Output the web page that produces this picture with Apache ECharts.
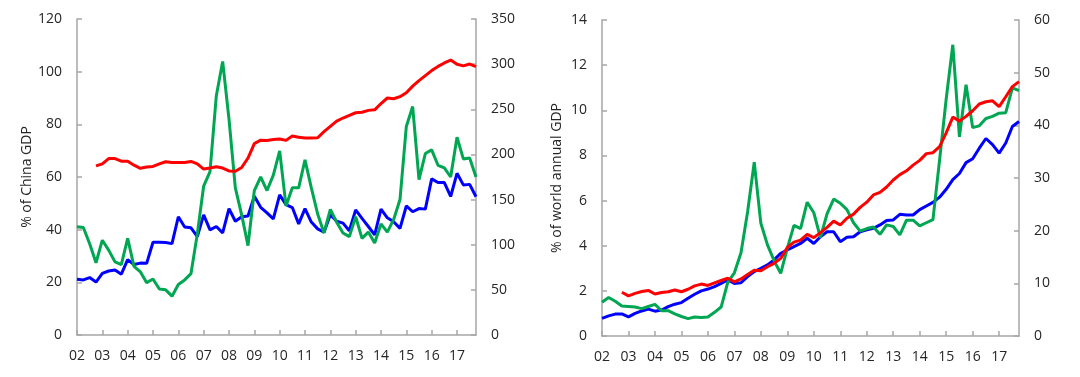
<!DOCTYPE html>
<html>
<head>
<meta charset="utf-8">
<script src="https://cdn.jsdelivr.net/npm/echarts@6/dist/echarts.min.js"></script>
<style>
html,body{margin:0;padding:0;background:#fff;}
#chart{width:1080px;height:377px;}
</style>
</head>
<body>
<div id="chart"></div>
<script>
// Tick labels (years) – quarterly data from 2002Q1 to 2017Q4
var years = ['02','03','04','05','06','07','08','09','10','11','12','13','14','15','16','17'];

// Left panel: % of China GDP (left axis) and right-axis series
var leftRed = [null,null,null,64.2,65,67,67,66,66,64.5,63.3,63.8,64,65,65.8,65.5,65.5,65.5,65.9,65,
  63,63.4,63.9,63.4,62.3,62.2,63.6,67.2,72.7,74,73.9,74.2,74.4,73.9,75.6,75.1,74.8,74.8,74.9,77.2,
  79.2,81.2,82.4,83.4,84.4,84.6,85.3,85.5,87.9,90,89.7,90.5,92,94.5,96.6,98.5,100.4,102,103.3,104.4,
  102.8,102.2,102.9,101.9];
var leftBlue = [21.2,20.9,21.8,20.1,23.4,24.3,24.7,23.1,28.6,26.8,27.3,27.2,35.2,35.2,35.1,34.7,44.9,41,40.7,37.4,
  45.6,39.9,41.2,38.8,48,43.2,44.9,45.2,52.7,48.5,46.4,44.1,53.2,49.5,48.4,42.2,48,42.9,40.3,39,
  45.7,43.2,42.5,39.6,47.5,44.3,41.2,38,47.8,44.5,43,40.5,49,46.8,48,47.8,59.3,57.9,57.9,52.6,
  61.4,57,57.2,52.5];
var leftGreen = [120,119,101,80,105,94,81,78,107,76,70,58,62,51,50,43,56,61,68,112,
  165,181,265,303,239,163,133,99,160,175,160,177,204,143,163,163,194,163,134,113,
  139,125,113,109,131,107,114,102,123,114,128,150,231,253,172,201,205,188,185,175,
  219,195,196,175];

// Right panel: % of world annual GDP (left axis) and right-axis series
var rightRed = [null,null,null,1.94,1.78,1.89,1.97,2.02,1.86,1.93,1.96,2.04,1.96,2.07,2.22,2.3,2.24,2.35,2.46,2.56,
  2.4,2.53,2.72,2.91,2.89,3.07,3.22,3.44,3.92,4.16,4.25,4.5,4.36,4.58,4.81,5.09,4.92,5.22,5.4,5.7,
  5.93,6.25,6.36,6.6,6.91,7.15,7.32,7.57,7.78,8.08,8.12,8.39,9.0,9.7,9.52,9.73,9.98,10.28,10.38,10.42,
  10.16,10.6,11.05,11.27];
var rightBlue = [0.78,0.89,0.97,0.98,0.85,1.0,1.11,1.19,1.1,1.15,1.3,1.41,1.48,1.67,1.85,2.0,2.08,2.19,2.33,2.48,
  2.33,2.36,2.63,2.85,3.0,3.15,3.37,3.66,3.81,3.96,4.1,4.33,4.1,4.4,4.62,4.62,4.18,4.37,4.4,4.62,
  4.7,4.77,4.92,5.12,5.14,5.39,5.36,5.36,5.6,5.76,5.92,6.15,6.5,6.93,7.2,7.68,7.85,8.32,8.75,8.48,
  8.1,8.55,9.28,9.5];
var rightGreen = [6.4,7.3,6.6,5.7,5.6,5.5,5.2,5.6,6.0,4.8,4.8,4.2,3.7,3.3,3.6,3.5,3.6,4.5,5.5,10.2,
  12.0,15.8,23.6,33.0,21.4,17.3,14.3,11.9,16.7,21.0,20.4,25.4,23.4,18.7,23.2,26.0,25.2,24.0,21.5,19.9,
  20.4,20.7,19.3,21.1,20.8,19.2,22.0,22.0,20.9,21.5,22.1,33.4,45.0,55.3,37.8,47.7,39.6,39.9,41.3,41.7,
  42.3,42.4,47.1,46.6];

// Build quarterly categories from the year labels
var categories = [];
years.forEach(function(y){ for (var q = 1; q <= 4; q++) categories.push(y + ' Q' + q); });

var FONT = 'Open Sans';
var TXT = '#262626';
var AX = '#a6a6a6';
var RED = '#ff0000', BLUE = '#0000ff', GREEN = '#00a651';

function xAxis(gi){
  return {
    type:'category', gridIndex:gi, data:categories, boundaryGap:false,
    axisLine:{lineStyle:{color:AX,width:1.5}},
    axisTick:{interval:3, inside:true, length:5, lineStyle:{color:AX,width:1.5}},
    axisLabel:{interval:3, margin:14, color:TXT, fontSize:14, fontFamily:FONT,
      formatter:function(v){ return v.split(' ')[0]; }},
    splitLine:{show:false}
  };
}
function yAxis(gi, pos, max, interval, name, gap){
  return {
    type:'value', gridIndex:gi, position:pos, min:0, max:max, interval:interval,
    name:name||'', nameLocation:'middle', nameGap:gap||0,
    nameTextStyle:{color:TXT, fontSize:14, fontFamily:FONT},
    axisLine:{show:true, lineStyle:{color:AX,width:1.5}},
    axisTick:{show:true, inside:true, length:5, lineStyle:{color:AX,width:1.5}},
    axisLabel:{margin:15, color:TXT, fontSize:14, fontFamily:FONT},
    splitLine:{show:false}
  };
}
function line(data, color, xi, yi){
  return {type:'line', data:data, xAxisIndex:xi, yAxisIndex:yi, symbol:'none',
    lineStyle:{color:color, width:3}, itemStyle:{color:color}, connectNulls:false, animation:false};
}

var chart = echarts.init(document.getElementById('chart'), null, {renderer:'canvas'});
chart.setOption({
  animation:false,
  backgroundColor:'#fff',
  grid:[
    {left:77, right:604, top:19, bottom:42},
    {left:602, right:61, top:20, bottom:41}
  ],
  xAxis:[xAxis(0), xAxis(1)],
  yAxis:[
    yAxis(0,'left',120,20,'% of China GDP',39),
    yAxis(0,'right',350,50),
    yAxis(1,'left',14,2,'% of world annual GDP',38),
    yAxis(1,'right',60,10)
  ],
  series:[
    line(leftBlue, BLUE, 0, 0),
    line(leftGreen, GREEN, 0, 1),
    line(leftRed, RED, 0, 0),
    line(rightBlue, BLUE, 1, 2),
    line(rightGreen, GREEN, 1, 3),
    line(rightRed, RED, 1, 2)
  ]
});
</script>
</body>
</html>
